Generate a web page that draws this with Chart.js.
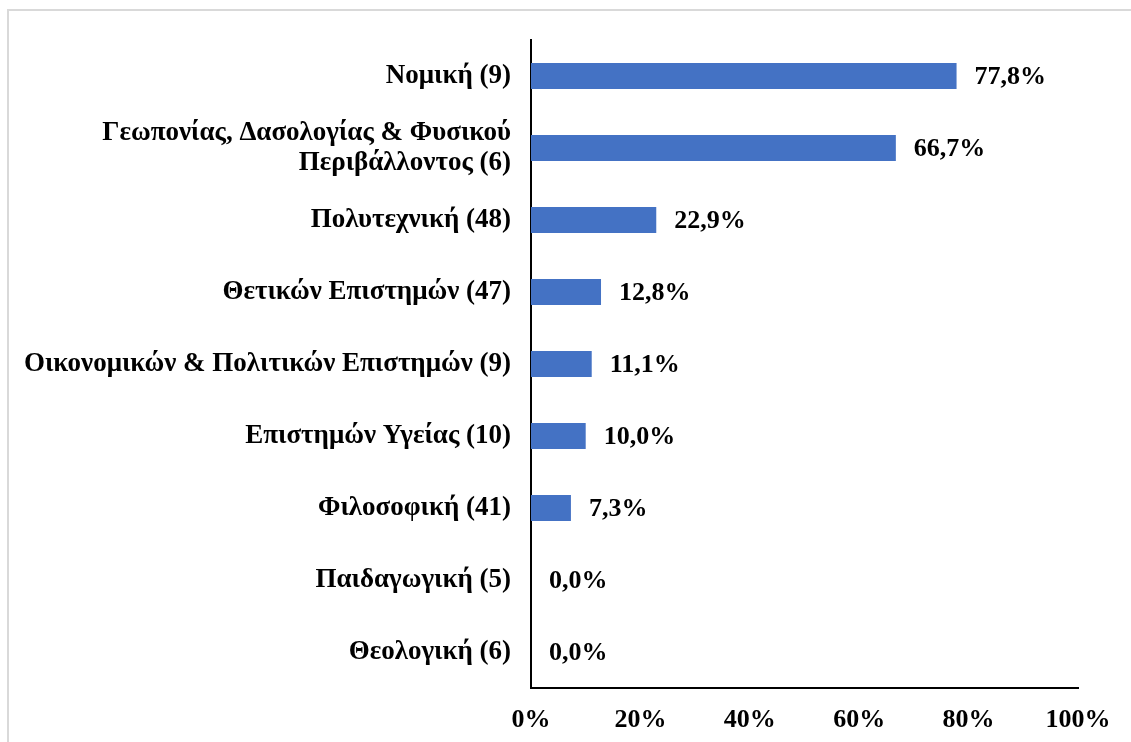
<!DOCTYPE html>
<html lang="el">
<head>
  <meta charset="UTF-8">
  <title>Faculties chart</title>
  <script src="https://cdn.jsdelivr.net/npm/chart.js"></script>
  <style>
    html, body { margin: 0; padding: 0; overflow: hidden; background: #fff; }
    #frame { position: absolute; left: 7px; top: 9px; width: 1140px; height: 760px; border: 2px solid #d9d9d9; }
    #wrap { position: absolute; left: 0; top: 0; width: 1131px; height: 742px; }
  </style>
</head>
<body>
<div id="frame"></div>
<div id="wrap"><canvas id="barChart"></canvas></div>

<script>
  // data
  const categories = [
    'Νομική (9)',
    ['Γεωπονίας, Δασολογίας & Φυσικού', 'Περιβάλλοντος (6)'],
    'Πολυτεχνική (48)',
    'Θετικών Επιστημών (47)',
    'Οικονομικών & Πολιτικών Επιστημών (9)',
    'Επιστημών Υγείας (10)',
    'Φιλοσοφική (41)',
    'Παιδαγωγική (5)',
    'Θεολογική (6)'
  ];
  const percentages = [77.8, 66.7, 22.9, 12.8, 11.1, 10.0, 7.3, 0.0, 0.0];
  const xTicks = [0, 20, 40, 60, 80, 100];

  const fontFamily = '"Liberation Serif", "Times New Roman", serif';

  // value labels at the end of each bar
  const valueLabels = {
    id: 'valueLabels',
    afterDatasetsDraw(chart) {
      const ctx = chart.ctx;
      const meta = chart.getDatasetMeta(0);
      ctx.save();
      ctx.font = 'bold 26px ' + fontFamily;
      ctx.fillStyle = '#000';
      ctx.textBaseline = 'middle';
      ctx.textAlign = 'left';
      meta.data.forEach((bar, i) => {
        const txt = percentages[i].toFixed(1).replace('.', ',') + '%';
        ctx.fillText(txt, bar.x + 18, bar.y + 1);
      });
      ctx.restore();
    }
  };

  new Chart(document.getElementById('barChart'), {
    type: 'bar',
    data: {
      labels: categories,
      datasets: [{
        data: percentages,
        backgroundColor: '#4472C4',
        borderWidth: 0,
        categoryPercentage: 1,
        barPercentage: 0.36
      }]
    },
    options: {
      indexAxis: 'y',
      responsive: true,
      maintainAspectRatio: false,
      animation: false,
      layout: { padding: { top: 40, right: 53, bottom: 0, left: 0 } },
      plugins: {
        legend: { display: false },
        tooltip: { enabled: false }
      },
      scales: {
        x: {
          min: 0,
          max: 100,
          afterBuildTicks(scale) { scale.ticks = xTicks.map(v => ({ value: v })); },
          afterFit(scale) { scale.height = 54; },
          grid: { display: false, drawTicks: false },
          border: { display: true, color: '#000', width: 2 },
          ticks: {
            padding: 17,
            color: '#000',
            font: { family: fontFamily, size: 26, weight: 'bold' },
            callback: v => v + '%',
            maxRotation: 0
          }
        },
        y: {
          afterFit(scale) { scale.width = 531; },
          grid: { display: false, drawTicks: false },
          border: { display: true, color: '#000', width: 2 },
          ticks: {
            padding: 20,
            color: '#000',
            font: { family: fontFamily, size: 27, weight: 'bold', lineHeight: 1.12 }
          }
        }
      }
    },
    plugins: [valueLabels]
  });
</script>
</body>
</html>
